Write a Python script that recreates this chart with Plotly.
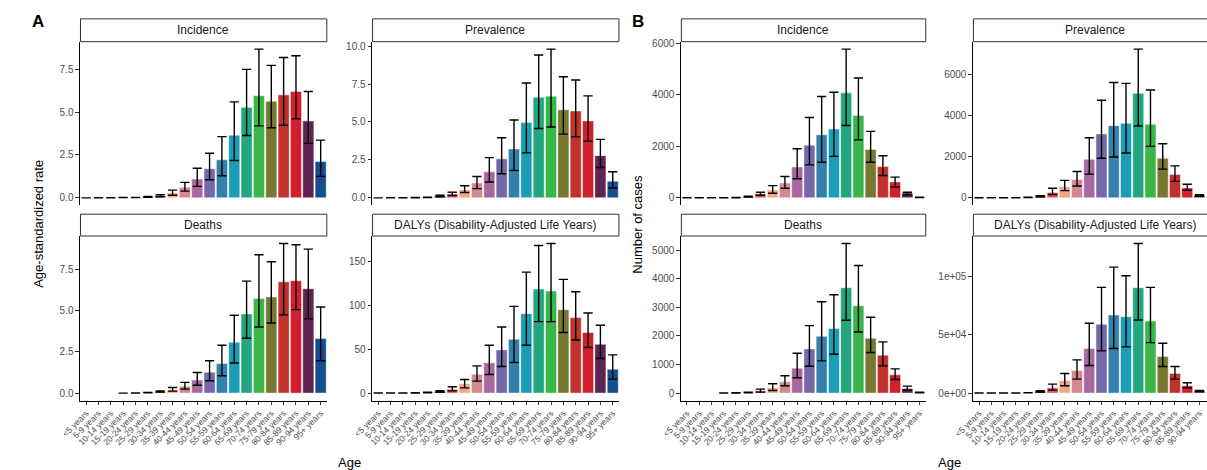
import plotly.graph_objects as go

# ---------------- data ----------------
ages = ["<5 years", "5-9 years", "10-14 years", "15-19 years", "20-24 years", "25-29 years",
        "30-34 years", "35-39 years", "40-44 years", "45-49 years", "50-54 years", "55-59 years",
        "60-64 years", "65-69 years", "70-74 years", "75-79 years", "80-84 years", "85-89 years",
        "90-94 years", "95+ years"]

age_colors = ["#3a3a3a", "#3a3a3a", "#3a3a3a", "#3a3a3a", "#3a3a3a", "#2a2a2a",
              "#D9505C", "#F4A582", "#D4898F", "#A8679E", "#7568A8", "#3480AD",
              "#1B9DB3", "#22A67F", "#3AB54A", "#767831", "#C0322B", "#D21F2E",
              "#5E2350", "#154D8E"]

# Panel A: age-standardized rate
a_inc_val = [0.00, 0.00, 0.01, 0.01, 0.02, 0.05, 0.12, 0.28, 0.62, 1.10, 1.70, 2.22, 3.66, 5.28, 5.96, 5.63, 6.01, 6.21, 4.49, 2.12]
a_inc_lo = [0.00, 0.00, 0.00, 0.01, 0.01, 0.03, 0.06, 0.15, 0.39, 0.67, 1.06, 1.29, 2.18, 3.64, 4.20, 4.09, 4.24, 4.61, 3.18, 1.25]
a_inc_hi = [0.00, 0.01, 0.01, 0.02, 0.03, 0.08, 0.18, 0.45, 0.90, 1.73, 2.60, 3.57, 5.60, 7.50, 8.68, 7.73, 8.19, 8.29, 6.21, 3.37]

a_prev_val = [0.00, 0.00, 0.01, 0.01, 0.03, 0.12, 0.26, 0.54, 0.98, 1.72, 2.57, 3.22, 4.96, 6.63, 6.70, 5.80, 5.72, 5.07, 2.78, 1.09]
a_prev_lo = [0.00, 0.00, 0.00, 0.01, 0.02, 0.07, 0.15, 0.35, 0.61, 1.04, 1.59, 1.80, 2.96, 4.57, 4.67, 4.20, 4.02, 3.74, 2.00, 0.65]
a_prev_hi = [0.00, 0.01, 0.01, 0.02, 0.04, 0.17, 0.37, 0.80, 1.41, 2.65, 3.96, 5.13, 7.57, 9.41, 9.80, 7.98, 7.76, 6.72, 3.85, 1.72]

a_death_val = [None, None, None, 0.00, 0.01, 0.03, 0.09, 0.20, 0.42, 0.79, 1.27, 1.79, 3.08, 4.80, 5.73, 5.83, 6.75, 6.81, 6.33, 3.31]
a_death_lo = [None, None, None, 0.00, 0.00, 0.02, 0.06, 0.12, 0.24, 0.48, 0.75, 1.05, 1.83, 3.33, 4.01, 4.25, 4.74, 5.06, 4.50, 1.96]
a_death_hi = [None, None, None, 0.00, 0.01, 0.04, 0.13, 0.34, 0.65, 1.25, 1.96, 2.90, 4.72, 6.79, 8.39, 7.96, 9.07, 8.99, 8.73, 5.22]

a_daly_val = [0.2, 0.2, 0.2, 0.3, 0.6, 1.9, 4.5, 10.6, 21.5, 34.4, 49.1, 61.2, 90.3, 118.2, 116.0, 94.8, 85.8, 68.8, 55.5, 27.2]
a_daly_lo = [0.1, 0.1, 0.1, 0.2, 0.4, 1.2, 2.6, 6.0, 13.6, 21.2, 30.2, 34.8, 54.4, 81.2, 81.2, 68.8, 60.4, 51.8, 39.3, 15.9]
a_daly_hi = [0.3, 0.3, 0.3, 0.4, 0.9, 2.8, 7.2, 15.5, 31.0, 54.4, 75.2, 98.6, 137.5, 167.7, 170.0, 129.2, 115.2, 91.0, 77.1, 43.4]

# Panel B: number of cases
b_inc_val = [2, 2, 3, 5, 10, 45, 160, 306, 574, 1200, 2043, 2451, 2668, 4073, 3192, 1877, 1213, 613, 191, 15]
b_inc_lo = [1, 1, 2, 3, 6, 30, 102, 179, 370, 740, 1277, 1379, 1609, 2809, 2247, 1379, 868, 421, 115, 8]
b_inc_hi = [3, 3, 4, 7, 14, 60, 217, 472, 830, 1902, 3115, 3932, 4098, 5770, 4647, 2579, 1634, 804, 217, 22]

b_prev_val = [2, 2, 3, 8, 20, 80, 257, 545, 898, 1877, 3112, 3513, 3626, 5086, 3578, 1925, 1139, 481, 112, 30]
b_prev_lo = [1, 1, 2, 5, 12, 50, 160, 353, 578, 1155, 1925, 1989, 2182, 3498, 2503, 1396, 802, 369, 80, 18]
b_prev_hi = [3, 3, 4, 11, 28, 110, 465, 850, 1283, 2920, 4749, 5615, 5567, 7236, 5246, 2631, 1556, 658, 150, 42]

b_death_val = [None, None, None, 5, 10, 25, 81, 186, 395, 872, 1547, 1988, 2256, 3686, 3058, 1919, 1326, 640, 163, 25]
b_death_lo = [None, None, None, 3, 6, 15, 35, 93, 256, 535, 942, 1128, 1360, 2547, 2140, 1419, 953, 477, 105, 15]
b_death_hi = [None, None, None, 7, 14, 35, 140, 326, 605, 1395, 2360, 3198, 3442, 5233, 4465, 2651, 1791, 849, 244, 35]

b_daly_val = [100, 100, 120, 150, 300, 1500, 4560, 10800, 19370, 38180, 58970, 66950, 65530, 90310, 61820, 31340, 16810, 6270, 1990, 500]
b_daly_lo = [60, 60, 80, 100, 200, 1000, 2560, 6270, 11970, 23650, 36180, 38180, 39600, 62680, 43300, 22790, 11970, 4560, 1420, 300]
b_daly_hi = [140, 140, 160, 200, 400, 2000, 7690, 16800, 28490, 59830, 90600, 107980, 100570, 128200, 90600, 42740, 22790, 8830, 2280, 700]

strip_titles = ["Incidence", "Prevalence", "Deaths", "DALYs (Disability-Adjusted Life Years)"]

# y tick definitions per panel
ytick_a_rate = [0, 2.5, 5.0, 7.5]
ytick_a_prev = [0, 2.5, 5.0, 7.5, 10.0]
ytick_a_daly = [0, 50, 100, 150]
ytick_b_inc = [0, 2000, 4000, 6000]
ytick_b_death = [0, 1000, 2000, 3000, 4000, 5000]
ytick_b_daly = [0, 50000, 100000]
ytick_b_daly_text = ["0e+00", "5e+04", "1e+05"]

# ---------------- layout geometry ----------------
W, H = 1207, 470
FONT = "Liberation Sans, Arial, sans-serif"
cols_px = [(61, 312), (358, 609), (672, 921), (969, 1218)]
rows_px = [(38, 203), (234, 400)]
strips_px = [(15, 38), (212, 234)]

panels = [
    # (col, row, title, val, lo, hi, tickvals, ticktext)
    (0, 0, strip_titles[0], a_inc_val, a_inc_lo, a_inc_hi, ytick_a_rate, None),
    (1, 0, strip_titles[1], a_prev_val, a_prev_lo, a_prev_hi, ytick_a_prev, None),
    (0, 1, strip_titles[2], a_death_val, a_death_lo, a_death_hi, ytick_a_rate, None),
    (1, 1, strip_titles[3], a_daly_val, a_daly_lo, a_daly_hi, ytick_a_daly, None),
    (2, 0, strip_titles[0], b_inc_val, b_inc_lo, b_inc_hi, ytick_b_inc, None),
    (3, 0, strip_titles[1], b_prev_val, b_prev_lo, b_prev_hi, ytick_b_inc, None),
    (2, 1, strip_titles[2], b_death_val, b_death_lo, b_death_hi, ytick_b_death, None),
    (3, 1, strip_titles[3], b_daly_val, b_daly_lo, b_daly_hi, ytick_b_daly, ytick_b_daly_text),
]

fig = go.Figure()
layout = {}
shapes = []
annotations = []

for i, (c, r, title, val, lo, hi, tv, tt) in enumerate(panels):
    n = i + 1
    xname = "x" if n == 1 else f"x{n}"
    yname = "y" if n == 1 else f"y{n}"
    up = [None if v is None else h - v for v, h in zip(val, hi)]
    dn = [None if v is None else v - l for v, l in zip(val, lo)]
    fig.add_trace(go.Bar(
        x=ages, y=val, xaxis=xname, yaxis=yname,
        marker=dict(color=age_colors, line=dict(color="rgba(255,255,255,0.8)", width=0.6)),
        error_y=dict(type="data", symmetric=False, array=up, arrayminus=dn,
                     color="black", thickness=1.4, width=4.6),
        showlegend=False, hoverinfo="x+y",
    ))
    x0, x1 = cols_px[c]
    y0, y1 = rows_px[r]
    full_w = x1 - x0
    vis_x1 = min(x1, W)
    xr_end = -0.5 + 20 * (vis_x1 - x0) / full_w
    bottom = (r == 1)
    layout["xaxis" if n == 1 else f"xaxis{n}"] = dict(
        domain=[x0 / W, vis_x1 / W], anchor=yname, type="category",
        range=[-0.5, xr_end], showgrid=False, zeroline=False,
        showline=bottom, linecolor="black", linewidth=1,
        ticks="outside" if bottom else "", ticklen=3.5, tickwidth=1, tickcolor="#333333",
        showticklabels=bottom, tickangle=-45,
        tickfont=dict(size=8.5, color="#4D4D4D", family=FONT),
        fixedrange=True,
    )
    vals_all = [h for h in hi if h is not None]
    ymax = max(vals_all)
    layout["yaxis" if n == 1 else f"yaxis{n}"] = dict(
        domain=[(H - y1) / H, (H - y0) / H], anchor=xname,
        range=[-0.05 * ymax, 1.05 * ymax], showgrid=False, zeroline=False,
        showline=True, linecolor="black", linewidth=1,
        ticks="outside", ticklen=3.5, tickwidth=1, tickcolor="#333333",
        tickvals=tv, ticktext=tt if tt else None,
        tickformat=".1f" if (i < 3) else "d",
        tickfont=dict(size=10, color="#4D4D4D", family=FONT),
        fixedrange=True,
    )
    # strip
    s0, s1 = strips_px[r]
    shapes.append(dict(type="rect", xref="paper", yref="paper",
                       x0=(x0 + 0.5) / W, x1=min(x1, W + 5) / W,
                       y0=(H - s1) / H, y1=(H - s0) / H,
                       line=dict(color="#333333", width=1), fillcolor="white", layer="above"))
    annotations.append(dict(text=title, xref="paper", yref="paper",
                            x=(x0 + x1) / 2 / W, y=(H - (s0 + s1) / 2) / H,
                            xanchor="center", yanchor="middle", showarrow=False,
                            font=dict(size=12, color="#1A1A1A", family=FONT)))

# axis titles and panel labels
annotations += [
    dict(text="Age-standardized rate", x=18 / W, y=(H - 222) / H, textangle=-90),
    dict(text="Number of cases", x=628 / W, y=(H - 222) / H, textangle=-90),
    dict(text="Age", x=335 / W, y=(H - 462) / H),
    dict(text="Age", x=945 / W, y=(H - 462) / H),
]
for a in annotations[-4:]:
    a.update(xref="paper", yref="paper", xanchor="center", yanchor="middle",
             showarrow=False, font=dict(size=13, color="black", family=FONT))

annotations += [
    dict(text="<b>A</b>", x=18 / W, y=(H - 18) / H, xref="paper", yref="paper",
         xanchor="center", yanchor="middle", showarrow=False,
         font=dict(size=17, color="black", family=FONT)),
    dict(text="<b>B</b>", x=628 / W, y=(H - 18) / H, xref="paper", yref="paper",
         xanchor="center", yanchor="middle", showarrow=False,
         font=dict(size=17, color="black", family=FONT)),
]

fig.update_layout(
    width=W, height=H, autosize=False,
    margin=dict(l=0, r=0, t=0, b=0),
    paper_bgcolor="white", plot_bgcolor="white",
    bargap=0.1, shapes=shapes, annotations=annotations,
    font=dict(family=FONT),
    **layout,
)

fig.write_html("out.html")
